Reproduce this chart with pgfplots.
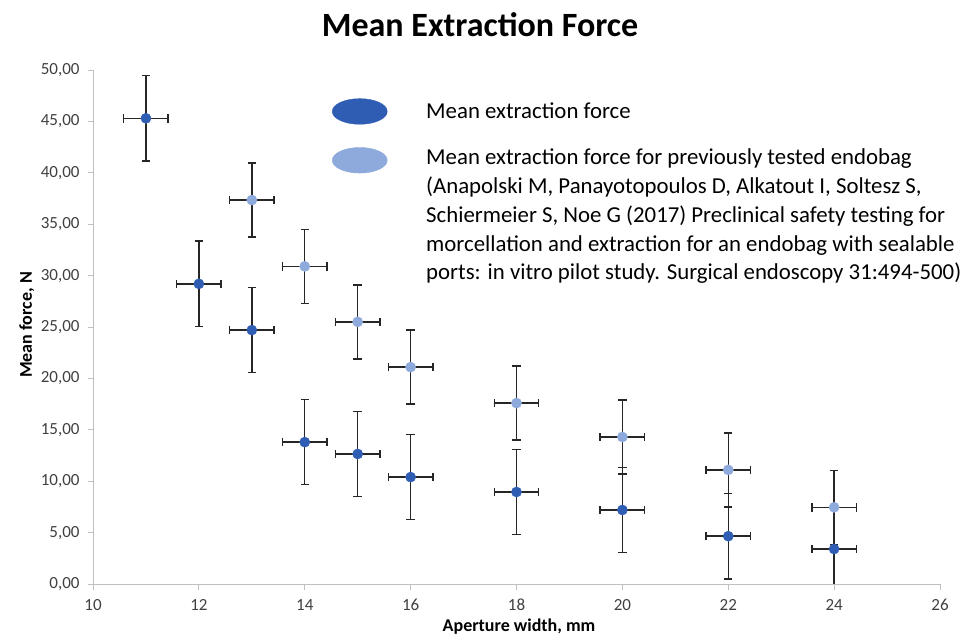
\documentclass[border=0pt]{standalone}
\usepackage{pgfplots}
\pgfplotsset{compat=1.18}
\usepackage{pgfplotstable}
\usepackage{fontspec}
\setmainfont{Carlito}
\definecolor{darkb}{HTML}{2F5DB4}
\definecolor{lightb}{HTML}{8EA9DB}
\definecolor{spine}{HTML}{BFBFBF}
\definecolor{errc}{HTML}{262626}

\pgfplotstableread{
x y ex ey
11 45.3 0.42 4.15
12 29.2 0.42 4.15
13 24.7 0.42 4.15
14 13.8 0.42 4.15
15 12.65 0.42 4.15
16 10.4 0.42 4.15
18 8.95 0.42 4.15
20 7.2 0.42 4.15
22 4.65 0.42 4.15
24 3.4 0.42 4.15
}\darkdata

\pgfplotstableread{
x y ex ey
13 37.35 0.42 3.6
14 30.9 0.42 3.6
15 25.5 0.42 3.6
16 21.1 0.42 3.6
18 17.6 0.42 3.6
20 14.3 0.42 3.6
22 11.1 0.42 3.6
24 7.46 0.42 3.6
}\lightdata

\begin{document}
\begin{tikzpicture}
\path[use as bounding box] (-93bp,-59bp) rectangle (884bp,584bp);
\begin{axis}[
  at={(0,0)}, anchor=south west,
  scale only axis, width=847bp, height=514bp,
  xmin=10, xmax=26, ymin=0, ymax=50,
  xtick={10,12,...,26}, ytick={0,5,...,50},
  axis x line*=bottom, axis y line*=left,
  axis line style={spine,-, line width=0.9bp},
  tick style={spine, line width=0.9bp},
  major tick length=5.5bp, tick align=outside,
  /pgf/number format/assume math mode=true,
  ticklabel style={font=\fontsize{17bp}{20bp}\selectfont, text=black!75},
  yticklabel style={/pgf/number format/fixed, /pgf/number format/fixed zerofill,
    /pgf/number format/precision=2, /pgf/number format/use comma, xshift=-4.5bp},
  xticklabel style={anchor=base, yshift=-21bp},
  title={Mean Extraction Force},
  title style={font=\bfseries\fontsize{34bp}{40bp}\selectfont, at={(axis description cs:0.457,1)}, anchor=base, yshift=28bp},
  xlabel={Aperture width, mm},
  xlabel style={font=\bfseries\fontsize{18bp}{22bp}\selectfont, at={(axis description cs:0.503,0)}, anchor=base, yshift=-47bp},
  ylabel={Mean force, N},
  ylabel style={font=\bfseries\fontsize{18bp}{22bp}\selectfont, at={(axis description cs:-0.078,0.504)}, anchor=center},
  legend style={at={(axis description cs:0.282,0.945)}, anchor=north west, draw=none, fill=none,
    font=\fontsize{22.8bp}{28.8bp}\selectfont, row sep=18bp, inner sep=0pt},
  legend cell align=left,
]
\addplot[only marks, mark=*, mark size=5.1bp, color=darkb, mark options={fill=darkb, draw=darkb},
  legend image code/.code={\fill[darkb] (27.5bp,0bp) ellipse (27.5bp and 12.8bp); \path[draw=none] (0bp,0bp) -- (92bp,0bp);},
  error bars/.cd, x dir=both, x explicit, y dir=both, y explicit,
  error bar style={line width=1.4bp, color=errc},
  error mark options={rotate=90, line width=1.4bp, mark size=4.2bp, color=errc}]
  table[x=x, y=y, x error=ex, y error=ey]{\darkdata};
\addlegendentry{Mean extraction force}
\addplot[only marks, mark=*, mark size=5.1bp, color=lightb, mark options={fill=lightb, draw=lightb},
  legend image code/.code={\fill[lightb] (27.5bp,-5bp) ellipse (27.5bp and 12.8bp); \path[draw=none] (0bp,0bp) -- (92bp,0bp);},
  error bars/.cd, x dir=both, x explicit, y dir=both, y explicit,
  error bar style={line width=1.4bp, color=errc},
  error mark options={rotate=90, line width=1.4bp, mark size=4.2bp, color=errc}]
  table[x=x, y=y, x error=ex, y error=ey]{\lightdata};
\addlegendentry{\begin{tabular}[t]{@{}l@{}}Mean extraction force for previously tested endobag\\(Anapolski M, Panayotopoulos D, Alkatout I, Soltesz S,\\Schiermeier S, Noe G (2017) Preclinical safety testing for\\morcellation and extraction for an endobag with sealable\\ports: in vitro pilot study. Surgical endoscopy 31:494-500)\end{tabular}}
\end{axis}
\end{tikzpicture}
\end{document}
